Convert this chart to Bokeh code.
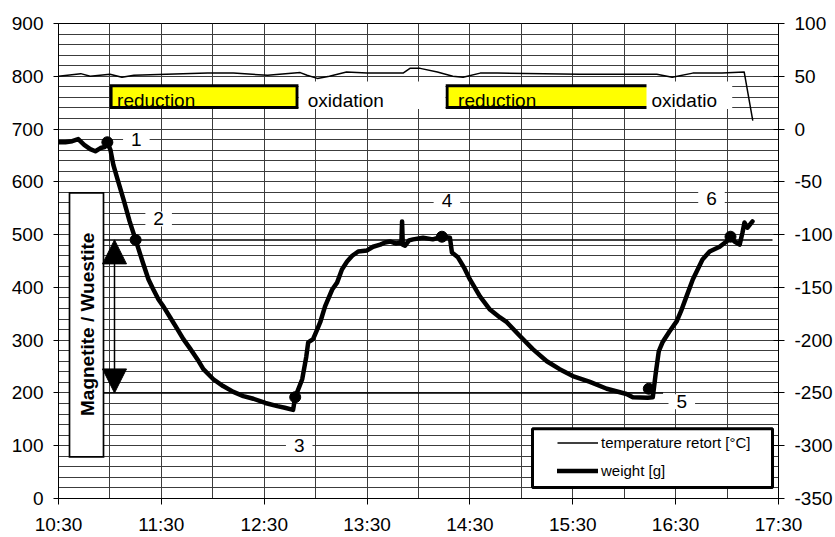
import numpy as np
from bokeh.plotting import figure
from bokeh.models import (Range1d, LinearAxis, FixedTicker, CustomJSTickFormatter, Label,
                          Legend, LegendItem, BoxAnnotation, Arrow, NormalHead)
from bokeh.embed import file_html
from bokeh.resources import INLINE

# ---------------------------------------------------------------- data
# weight of the oxygen carrier [g] (left axis)
weight_time = [
    "10:30", "10:34", "10:38", "10:41:30", "10:45", "10:48:30", "10:51:30", "10:54:30", "10:57", "10:58:30",
    "11:00:20", "11:02", "11:04:30", "11:08", "11:11:30", "11:15", "11:19", "11:22:30", "11:25:20", "11:28:20",
    "11:31:10", "11:35:10", "11:39:20", "11:42:50", "11:47", "11:51", "11:54:30", "12:00:20", "12:06", "12:12",
    "12:17:50", "12:23:40", "12:30:40", "12:37:40", "12:42", "12:46:50", "12:48:05", "12:52:10", "12:54:30", "12:55:40",
    "12:58:30", "13:01", "13:02:40", "13:05:30", "13:09:40", "13:12:30", "13:15:20", "13:18:20", "13:21:20", "13:24:50",
    "13:30", "13:33:30", "13:37:40", "13:40:30", "13:43:20", "13:47", "13:49:10", "13:50", "13:50:25", "13:50:50",
    "13:52:10", "13:54:30", "13:56:50", "14:02:40", "14:08:20", "14:13:40", "14:18:20", "14:19:30", "14:23", "14:26:30",
    "14:30", "14:35:50", "14:41:40", "14:47:30", "14:51:30", "14:59:10", "15:06:40", "15:14:50", "15:22:20", "15:30",
    "15:40", "15:49:50", "16:01:20", "16:05", "16:13:40", "16:16:40", "16:18:20", "16:20:10", "16:22:20", "16:26:30",
    "16:30:40", "16:33:30", "16:36:20", "16:40", "16:42:50", "16:45:40", "16:49:50", "16:55:40", "16:59:40", "17:02",
    "17:04:20", "17:07:20", "17:09", "17:10:10", "17:11:50", "17:14:50",
]
weight_g = [
    675, 675, 677, 681, 670, 662, 658, 664, 666, 675,
    660, 632, 604, 566, 525, 490, 449, 415, 396, 377,
    364, 343, 321, 302, 283, 264, 245, 226, 213, 202,
    194, 189, 181, 175, 172, 168, 192, 226, 268, 296,
    302, 321, 334, 364, 396, 409, 434, 449, 460, 468,
    470, 477, 481, 485, 487, 483, 485, 483, 525, 481,
    479, 489, 491, 494, 491, 496, 494, 466, 457, 438,
    415, 383, 358, 343, 334, 308, 283, 260, 245, 232,
    221, 208, 198, 192, 191, 192, 236, 279, 296, 317,
    336, 358, 383, 415, 434, 453, 468, 477, 487, 496,
    487, 481, 504, 523, 513, 525,
]

# retort temperature [°C] (right axis)
temp_time = ["10:30", "10:43", "10:48:30", "11:00", "11:07", "11:14", "11:33", "11:57", "12:12", "12:32",
             "12:51", "12:55", "13:01", "13:08", "13:18", "13:30", "13:51", "13:55", "14:01", "14:11",
             "14:20", "14:26", "14:36", "14:46", "15:34", "16:19", "16:28", "16:40", "16:57", "17:10", "17:15"]
temp_c = [50, 52.5, 50, 52, 49, 51, 52, 53, 53, 51,
          53.5, 51, 48, 50, 54, 53, 53, 57.5, 57.5, 54,
          50, 49, 53, 53, 52, 52, 49, 53, 53, 54, 8]

# numbered points of the cycle
point_time = ["10:58:30", "11:15", "12:48:05", "14:13:40", "16:14:20", "17:02"]
point_g = [675, 490, 192, 496, 208, 496]
point_label = ["1", "2", "3", "4", "5", "6"]

# process phases
reduction_start = ["11:00:40", "14:16:40"]
reduction_end = ["12:49:10", "16:19:30"]
reduction_label = ["reduction", "reduction"]
oxidation_start = ["12:50:10", "16:13"]
oxidation_end = ["14:15:40", "17:03"]
oxidation_label = ["oxidation", "oxidatio"]

# magnetite / wuestite weight levels
level_g = [490, 200]
level_start = ["10:56:15", "10:56:15"]
level_end = ["17:26:30", "16:22:40"]

x_ticks = ["10:30", "11:30", "12:30", "13:30", "14:30", "15:30", "16:30", "17:30"]
left_ticks = list(range(0, 901, 100))
right_ticks = list(range(-350, 101, 50))


def hours(t):
    parts = [float(v) for v in t.split(":")]
    parts += [0.0] * (3 - len(parts))
    return parts[0] + parts[1] / 60 + parts[2] / 3600


def hrs(lst):
    return [hours(t) for t in lst]


FONT = "Liberation Sans"

# ---------------------------------------------------------------- figure
p = figure(width=835, height=537, output_backend="svg", toolbar_location=None,
           x_range=Range1d(hours("10:30"), hours("17:30")), y_range=Range1d(0, 900),
           min_border_left=58, min_border_right=57, min_border_top=23, min_border_bottom=37)
p.background_fill_color = "white"
p.border_fill_color = "white"
p.outline_line_color = "black"
p.outline_line_width = 1
p.extra_y_ranges = {"temp": Range1d(-350, 100)}

# grid: half-hour columns, 20 g rows
p.xgrid.ticker = FixedTicker(ticks=[hours("10:30") + 0.5 * i for i in range(15)])
p.ygrid.ticker = FixedTicker(ticks=list(range(0, 901, 20)))
for g in (p.xgrid, p.ygrid):
    g.grid_line_color = "#3c3c3c"
    g.grid_line_width = 1

# bottom axis
xa = p.xaxis[0]
xa.ticker = FixedTicker(ticks=hrs(x_ticks))
xa.formatter = CustomJSTickFormatter(code="""
    const h = Math.floor(tick + 1e-9);
    const m = Math.round((tick - h) * 60);
    return h + ":" + (m < 10 ? "0" + m : m);
""")
xa.major_tick_in = 0
xa.major_tick_out = 6
xa.minor_tick_in = 0
xa.minor_tick_out = 0
xa.major_label_standoff = 9

# left axis
ya = p.yaxis[0]
ya.ticker = FixedTicker(ticks=left_ticks)
ya.major_tick_in = 0
ya.major_tick_out = 5
ya.minor_tick_in = 0
ya.minor_tick_out = 0
ya.major_label_standoff = 10

# right axis (temperature), plain hyphen for negatives
ra = LinearAxis(y_range_name="temp", ticker=FixedTicker(ticks=right_ticks),
                formatter=CustomJSTickFormatter(code="return String(Math.round(tick));"))
ra.major_tick_in = 5
ra.major_tick_out = 6
ra.minor_tick_in = 0
ra.minor_tick_out = 0
ra.major_label_standoff = 10
p.add_layout(ra, "right")

for ax in (xa, ya, ra):
    ax.axis_line_color = "black"
    ax.axis_line_width = 1
    ax.major_tick_line_color = "black"
    ax.major_label_text_font = FONT
    ax.major_label_text_font_size = "19px"
    ax.major_label_text_color = "black"

# ---------------------------------------------------------------- series
temp_r = p.line(hrs(temp_time), temp_c, y_range_name="temp",
                line_color="black", line_width=1.5, line_join="round")
weight_r = p.line(hrs(weight_time), weight_g, line_color="black", line_width=4.5,
                  line_join="round", line_cap="round")
p.scatter(hrs(point_time), point_g, size=11, color="black")

# magnetite / wuestite levels
p.segment(x0=hrs(level_start), y0=level_g, x1=hrs(level_end), y1=level_g,
          line_color="black", line_width=1.5)

# phase boxes
BAND_LO, BAND_HI = 741, 782
p.quad(left=hrs(reduction_start), right=hrs(reduction_end), bottom=BAND_LO, top=BAND_HI,
       fill_color="#ffff00", line_color="black", line_width=3, line_join="miter")
p.quad(left=hrs(oxidation_start), right=hrs(oxidation_end), bottom=738, top=790,
       fill_color="white", line_color=None)

TEXT_Y = 754
for t0, txt, dx in zip(reduction_start, reduction_label, [6, 11]):
    p.add_layout(Label(x=hours(t0), y=TEXT_Y, x_offset=dx, text=txt, text_font=FONT,
                       text_color="black", text_font_size="19px",
                       text_baseline="alphabetic", text_align="left"))
for t0, txt, dx in zip(oxidation_start, oxidation_label, [9, 5]):
    p.add_layout(Label(x=hours(t0), y=TEXT_Y, x_offset=dx, text=txt, text_font=FONT,
                       text_color="black", text_font_size="19px",
                       text_baseline="alphabetic", text_align="left"))

# numbered point labels
label_offsets = [(29, 3), (23, 21), (4, -48), (5, 36), (33, -13), (-19, 38)]
for t, g, txt, (dx, dy) in zip(point_time, point_g, point_label, label_offsets):
    p.add_layout(Label(x=hours(t), y=g, x_offset=dx, y_offset=dy, text=txt,
                       text_font=FONT, text_font_size="19px", text_color="black",
                       text_align="center", text_baseline="middle",
                       background_fill_color="white", background_fill_alpha=1,
                       padding=dict(left=8, right=8, top=1, bottom=1)))

# magnetite / wuestite box with double arrow
p.quad(left=hours("10:36:25"), right=hours("10:56:15"), bottom=79, top=579,
       fill_color="white", line_color="black", line_width=1.7, line_join="miter")
p.add_layout(Label(x=hours("10:46:38"), y=330, text="Magnetite / Wuestite", angle=np.pi / 2,
                   text_font=FONT, text_font_size="19px", text_font_style="bold",
                   text_color="black", text_align="center", text_baseline="middle"))
p.add_layout(Arrow(start=NormalHead(size=24, fill_color="black", line_color="black"),
                   end=NormalHead(size=24, fill_color="black", line_color="black"),
                   x_start=hours("11:02:40"), y_start=level_g[1],
                   x_end=hours("11:02:40"), y_end=level_g[0],
                   line_color="black", line_width=1.5))

# legend
p.add_layout(BoxAnnotation(left=hours("15:06:30"), right=hours("17:26:30"), bottom=21, top=132,
                           fill_color="white", fill_alpha=1, line_color="black", line_width=3,
                           line_alpha=1))
legend = Legend(items=[LegendItem(label="temperature retort [°C]", renderers=[temp_r]),
                       LegendItem(label="weight [g]", renderers=[weight_r])],
                location=(499, 19), orientation="vertical", glyph_width=41, glyph_height=15,
                label_height=15, label_standoff=3, spacing=11, padding=0, margin=0,
                label_text_font=FONT, label_text_font_size="15px", label_text_color="black",
                background_fill_alpha=0, border_line_alpha=0)
p.add_layout(legend)

open("out.html", "w").write(file_html(p, INLINE))
